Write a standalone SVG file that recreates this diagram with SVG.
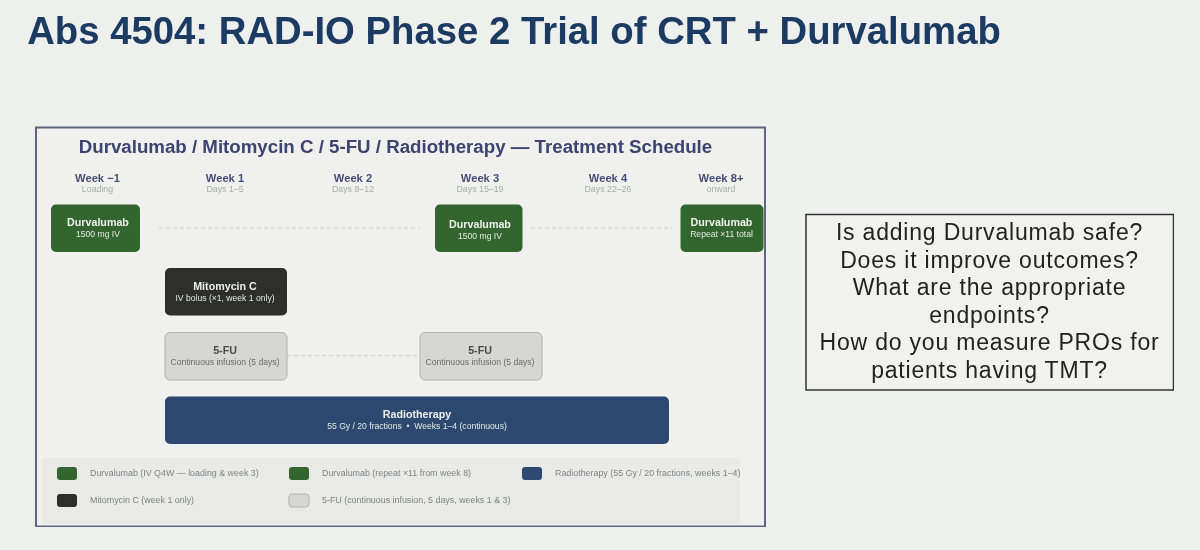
<svg xmlns="http://www.w3.org/2000/svg" width="1200" height="550" viewBox="0 0 1200 550">
<style>
text{font-family:"Liberation Sans",Arial,sans-serif;text-anchor:middle}
.wk{font-size:11.2px;font-weight:700;fill:#454e74}
.sub{font-size:8.8px;fill:#a8aaac}
.nt{font-size:10.700px;font-weight:700;fill:#eef0ec}
.ns{font-size:8.600px;fill:#e4e8e2}
.dk{fill:#484848}
.dks{fill:#6a6a6a}
.lg{font-size:8.880px;fill:#808284;text-anchor:start}
.q{font-size:23px;letter-spacing:.8px;fill:#222}
.dash{stroke:#cfd0ce;stroke-width:1.200;stroke-dasharray:4 3;fill:none}
.g{fill:#33662f}.m{fill:#2d2e2c}.f{fill:#d6d7d5;stroke:#b0b2ae;stroke-width:1}.r{fill:#2d4a70}
</style>
<defs><filter id="soft" x="0" y="0" width="100%" height="100%"><feGaussianBlur stdDeviation="0.4"/></filter></defs>
<rect width="1200" height="550" fill="#eef0ee"/>
<g filter="url(#soft)">
<text x="514" y="44" style="font-size:38.300px;font-weight:700;fill:#1f3a63">Abs 4504: RAD-IO Phase 2 Trial of CRT + Durvalumab</text>
<g id="panel">
<rect x="36" y="127.500" width="729" height="399" fill="#f0f1ef" stroke="#5c6680" stroke-width="2"/>
<text x="395.500" y="153" style="font-size:18.700px;font-weight:700;fill:#3a4470">Durvalumab / Mitomycin C / 5-FU / Radiotherapy — Treatment Schedule</text>
</g>
<g id="headers">
<text class="wk" x="97.500" y="182">Week −1</text><text class="sub" x="97.500" y="192">Loading</text>
<text class="wk" x="225" y="182">Week 1</text><text class="sub" x="225" y="192">Days 1–5</text>
<text class="wk" x="353" y="182">Week 2</text><text class="sub" x="353" y="192">Days 8–12</text>
<text class="wk" x="480" y="182">Week 3</text><text class="sub" x="480" y="192">Days 15–19</text>
<text class="wk" x="608" y="182">Week 4</text><text class="sub" x="608" y="192">Days 22–26</text>
<text class="wk" x="721" y="182">Week 8+</text><text class="sub" x="721" y="192">onward</text>
</g>
<g id="connectors">
<path class="dash" d="M159 228H420"/>
<path class="dash" d="M531 228H672"/>
<path class="dash" d="M287 355.500H420"/>
</g>
<g id="durva-loading"><rect class="g" x="51" y="204.500" width="89" height="47.500" rx="5"/><text class="nt" x="98" y="226">Durvalumab</text><text class="ns" x="98" y="237">1500 mg IV</text></g>
<g id="durva-week3"><rect class="g" x="435" y="204.500" width="87.500" height="47.500" rx="5"/><text class="nt" x="480" y="228">Durvalumab</text><text class="ns" x="480" y="239">1500 mg IV</text></g>
<g id="durva-repeat"><rect class="g" x="680.500" y="204.500" width="83" height="47.500" rx="5"/><text class="nt" x="721.500" y="226">Durvalumab</text><text class="ns" x="721.500" y="237">Repeat ×11 total</text></g>
<g id="mitomycin"><rect class="m" x="165" y="268" width="122" height="47.500" rx="5"/><text class="nt" x="225" y="290">Mitomycin C</text><text class="ns" x="225" y="301">IV bolus (×1, week 1 only)</text></g>
<g id="fu-1"><rect class="f" x="165" y="332.500" width="122" height="47.500" rx="5"/><text class="nt dk" x="225" y="354">5-FU</text><text class="ns dks" x="225" y="365">Continuous infusion (5 days)</text></g>
<g id="fu-2"><rect class="f" x="420" y="332.500" width="122" height="47.500" rx="5"/><text class="nt dk" x="480" y="354">5-FU</text><text class="ns dks" x="480" y="365">Continuous infusion (5 days)</text></g>
<g id="radiotherapy"><rect class="r" x="165" y="396.500" width="504" height="47.500" rx="5"/><text class="nt" x="417" y="418">Radiotherapy</text><text class="ns" x="417" y="429">55 Gy / 20 fractions &#160;•&#160; Weeks 1–4 (continuous)</text></g>
<g id="legend">
<rect x="42" y="458" width="698" height="66" rx="3" fill="#e9eae8"/>
<rect class="g" x="57" y="467" width="20" height="13" rx="3"/><text class="lg" x="90" y="476">Durvalumab (IV Q4W — loading &amp; week 3)</text>
<rect class="g" x="289" y="467" width="20" height="13" rx="3"/><text class="lg" x="322" y="476">Durvalumab (repeat ×11 from week 8)</text>
<rect class="r" x="522" y="467" width="20" height="13" rx="3"/><text class="lg" x="555" y="476">Radiotherapy (55 Gy / 20 fractions, weeks 1–4)</text>
<rect class="m" x="57" y="494" width="20" height="13" rx="3"/><text class="lg" x="90" y="503">Mitomycin C (week 1 only)</text>
<rect class="f" x="289" y="494" width="20" height="13" rx="3"/><text class="lg" x="322" y="503">5-FU (continuous infusion, 5 days, weeks 1 &amp; 3)</text>
</g>
<g id="questions">
<rect x="806" y="214.500" width="367.500" height="175.500" fill="#f1f2f0" stroke="#333" stroke-width="1.500"/>
<text class="q" x="989.500" y="240">Is adding Durvalumab safe?</text>
<text class="q" x="989.500" y="268">Does it improve outcomes?</text>
<text class="q" x="989.500" y="295">What are the appropriate</text>
<text class="q" x="989.500" y="323">endpoints?</text>
<text class="q" x="989.500" y="350">How do you measure PROs for</text>
<text class="q" x="989.500" y="378">patients having TMT?</text>
</g>
</g>
</svg>
